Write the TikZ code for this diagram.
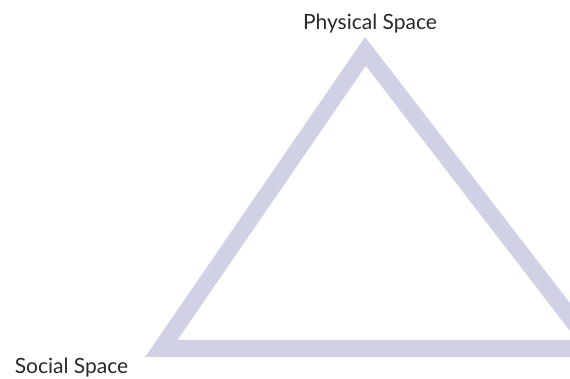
\documentclass[tikz,border=0pt]{standalone}
\usepackage{fontspec}
\setmainfont{Lato}
\usepackage{xcolor}
\definecolor{spaceline}{RGB}{209,209,230}
\definecolor{spacetext}{RGB}{40,40,40}
\tikzset{
  every picture/.style={line join=miter, line cap=butt},
  edge/.style={draw=spaceline, line width=17pt},
  spacelabel/.style={font=\fontsize{21}{25}\selectfont, text=spacetext, inner sep=0pt, anchor=base},
}

\begin{document}
\begin{tikzpicture}[x=1pt,y=1pt]
\useasboundingbox (0,0) rectangle (570,379);
\coordinate (physical) at (365.4,327.6);
\coordinate (social) at (161.3,30.5);
\coordinate (third) at (594.2,30.5);
\draw[edge](social)--(physical)--(third)--cycle;
\node[spacelabel] (physicallabel) at (370,349) {Physical Space};
\node[spacelabel] (sociallabel) at (71.5,5) {Social Space};
\end{tikzpicture}
\end{document}
